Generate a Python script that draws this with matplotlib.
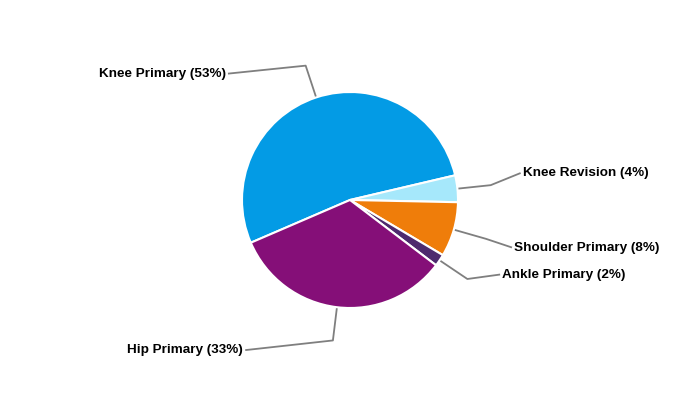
import numpy as np
import matplotlib
matplotlib.use("Agg")
import matplotlib.pyplot as plt

plt.rcParams["font.family"] = ["Liberation Sans", "DejaVu Sans"]

categories = [
    "Knee Primary",
    "Knee Revision",
    "Shoulder Primary",
    "Ankle Primary",
    "Hip Primary",
]
shares = [52.8, 4.0, 8.2, 1.8, 33.2]
colors = ["#039be5", "#a6e8fb", "#ef7d0a", "#4e2a6e", "#850f78"]

# label anchor points (in pie-radius units) and text alignment
label_anchor = [(-1.13, 1.17), (1.58, 0.25), (1.50, -0.44), (1.39, -0.69), (-0.97, -1.39)]
label_align = ["right", "left", "left", "left", "right"]

PX = 108.0  # pixels per pie radius
fig = plt.figure(figsize=(7, 4), dpi=100)
ax = fig.add_axes([0, 0, 1, 1])

wedges, _ = ax.pie(
    shares,
    colors=colors,
    startangle=203.3,
    counterclock=False,
    radius=1.0,
    center=(0, 0),
    wedgeprops={"edgecolor": "white", "linewidth": 1.5},
)

for wedge, name, value, (lx, ly), ha in zip(
    wedges, categories, shares, label_anchor, label_align
):
    mid = np.deg2rad((wedge.theta1 + wedge.theta2) / 2)
    x0, y0 = np.cos(mid), np.sin(mid)
    x1, y1 = 1.31 * np.cos(mid), 1.31 * np.sin(mid)
    ax.plot([x0, x1, lx], [y0, y1, ly], color="#7f7f7f", linewidth=1.3,
            solid_capstyle="butt", zorder=0)
    pad = 0.02 if ha == "left" else -0.02
    ax.text(lx + pad, ly, f"{name} ({round(value):.0f}%)", ha=ha, va="center",
            fontsize=9.7, fontweight="bold", color="black")

ax.set_xlim(-350 / PX, 350 / PX)
ax.set_ylim(-200 / PX, 200 / PX)
ax.set_aspect("equal")
ax.axis("off")

fig.savefig("out.png", dpi=100)
